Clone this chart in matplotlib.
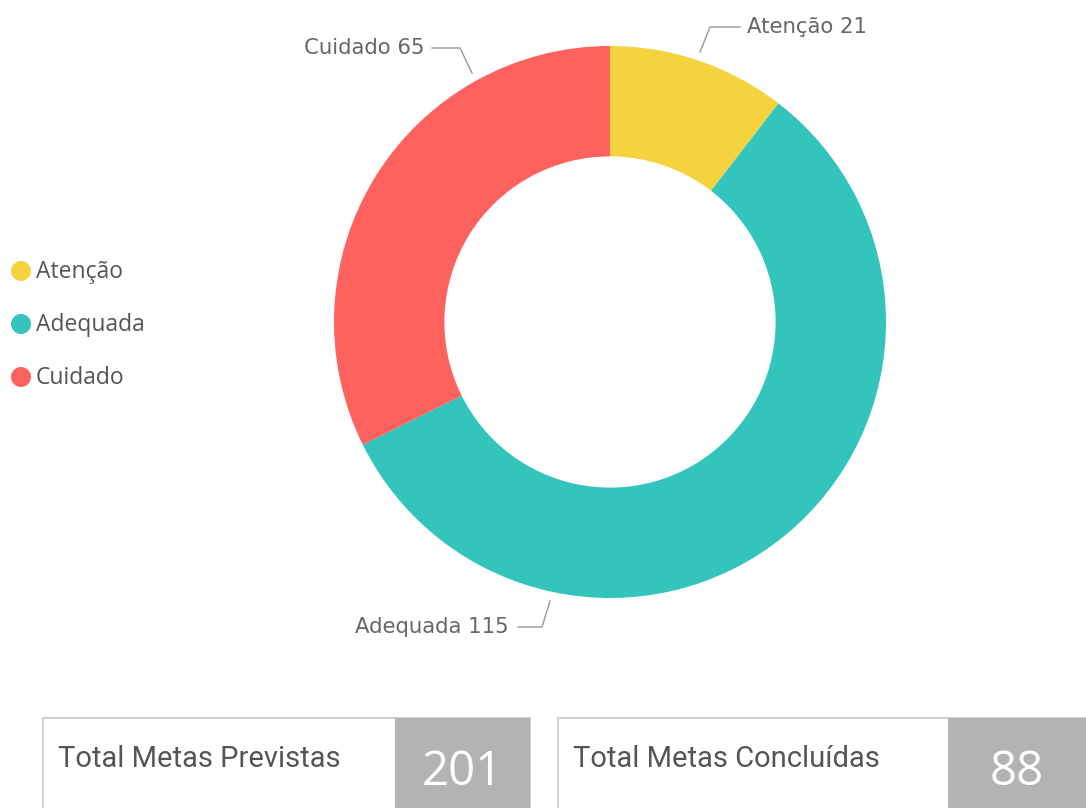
import matplotlib
matplotlib.use("Agg")
import matplotlib.pyplot as plt
from matplotlib.patches import Rectangle, Circle

categories = ["Atenção", "Adequada", "Cuidado"]
values = [21, 115, 65]
colors = ["#F4D33F", "#33C5BB", "#FD625E"]
card_labels = ["Total Metas Previstas", "Total Metas Concluídas"]
card_values = [201, 88]

W, H = 1086, 808
fig = plt.figure(figsize=(W / 100, H / 100), dpi=100)
fig.patch.set_facecolor("white")

# donut axes: centre (610,322), radius 276 px
cx, cy, r = 610, 322, 276
ax = fig.add_axes([(cx - r) / W, (H - cy - r) / H, 2 * r / W, 2 * r / H])
wedges, _ = ax.pie(values, colors=colors, startangle=90, counterclock=False,
                   radius=1.0, wedgeprops=dict(width=0.4, edgecolor="none"))
ax.set_xlim(-1, 1)
ax.set_ylim(-1, 1)
ax.axis("off")

# overlay in pixel coordinates
ov = fig.add_axes([0, 0, 1, 1], facecolor="none")
ov.set_xlim(0, W)
ov.set_ylim(H, 0)
ov.axis("off")

lab_font = dict(family="DejaVu Sans", fontsize=15.3, color="#666666")
line_kw = dict(color="#999999", lw=1.0)

# data labels with leader lines
lbl = [f"{c} {v}" for c, v in zip(categories, values)]
# Atenção
ov.plot([700, 710, 740], [52, 27, 27], **line_kw)
ov.text(747, 27, lbl[0], ha="left", va="center", **lab_font)
# Cuidado
ov.plot([472, 460, 432], [73, 48, 48], **line_kw)
ov.text(424, 48, lbl[2], ha="right", va="center", **lab_font)
# Adequada
ov.plot([550, 542, 518], [601, 627, 627], **line_kw)
ov.text(509, 627, lbl[1], ha="right", va="center", **lab_font)

# legend
for i, (c, col) in enumerate(zip(categories, colors)):
    y = 271 + i * 53
    ov.add_patch(Circle((21, y), 10, color=col, lw=0))
    ov.text(36, y + 1, c, ha="left", va="center", family="Open Sans",
            fontsize=16.5, color="#555555")

# cards
cards = [(43, 395, 530), (558, 948, 1086)]
for (x0, xg, x1), t, v in zip(cards, card_labels, card_values):
    ov.add_patch(Rectangle((x0, 718), x1 - x0, 100, facecolor="white",
                           edgecolor="#C8C8C8", lw=1.2))
    ov.add_patch(Rectangle((xg, 718), x1 - xg, 100, facecolor="#B3B3B3",
                           edgecolor="none"))
    ov.text(x0 + 15, 767, t, ha="left", va="baseline", family="Roboto",
            fontsize=21, color="#555555")
    ov.text((xg + x1) / 2, 785, str(v), ha="center", va="baseline",
            family="Open Sans", fontsize=34, color="white")

fig.savefig("out.png", dpi=100, facecolor="white")
